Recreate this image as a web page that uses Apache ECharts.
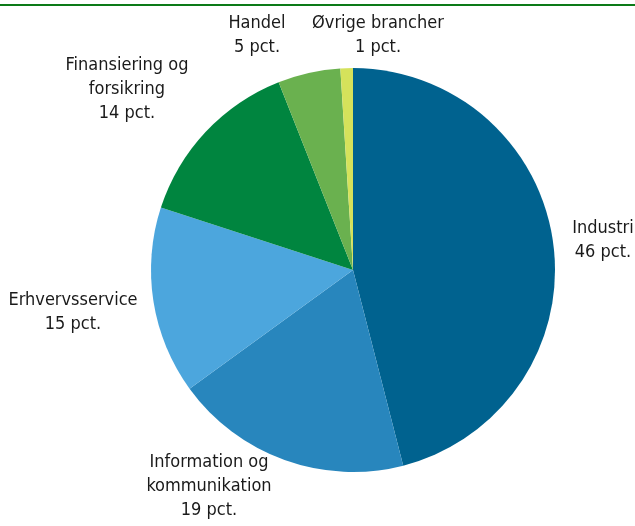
<!DOCTYPE html>
<html>
<head>
<meta charset="utf-8">
<style>
  html, body { margin: 0; padding: 0; background: #ffffff; }
  #chart { width: 635px; height: 526px; }
</style>
<script src="https://cdn.jsdelivr.net/npm/echarts@6/dist/echarts.min.js"></script>
</head>
<body>
<div id="chart"></div>
<script>
// Sector shares (pct.), clockwise from 12 o'clock
const sectors = [
  'Industri',
  'Information og\nkommunikation',
  'Erhvervsservice',
  'Finansiering og\nforsikring',
  'Handel',
  'Øvrige brancher'
];
const shares = [46, 19, 15, 14, 5, 1];
const sliceColors = ['#00628f', '#2886bd', '#4ca6dd', '#00853f', '#6ab14f', '#d5e25b'];

// Label anchor points (block centres) for each sector label
const labelAnchors = [
  [603, 240],
  [209, 486],
  [73, 312],
  [127, 89],
  [257, 35],
  [378, 35]
];

const chart = echarts.init(document.getElementById('chart'), null, { renderer: 'canvas' });

chart.setOption({
  backgroundColor: '#ffffff',
  animation: false,
  graphic: [{
    type: 'rect',
    shape: { x: 0, y: 4, width: 635, height: 2 },
    style: { fill: '#0c7a18' },
    silent: true
  }],
  series: [{
    type: 'pie',
    center: [353, 270],
    radius: [0, 202],
    startAngle: 90,
    clockwise: true,
    avoidLabelOverlap: false,
    itemStyle: { borderWidth: 0 },
    label: {
      show: true,
      position: 'outside',
      formatter: p => p.name + '\n' + p.value + ' pct.',
      fontFamily: "'DejaVu Sans Condensed', 'Liberation Sans Narrow', sans-serif",
      fontSize: 18,
      lineHeight: 24,
      color: '#1a1a1a',
      align: 'center'
    },
    labelLine: { show: false },
    labelLayout: params => ({
      x: labelAnchors[params.dataIndex][0],
      y: labelAnchors[params.dataIndex][1],
      align: 'center',
      verticalAlign: 'middle'
    }),
    data: sectors.map((name, i) => ({
      name: name,
      value: shares[i],
      itemStyle: { color: sliceColors[i] }
    }))
  }]
});
</script>
</body>
</html>
